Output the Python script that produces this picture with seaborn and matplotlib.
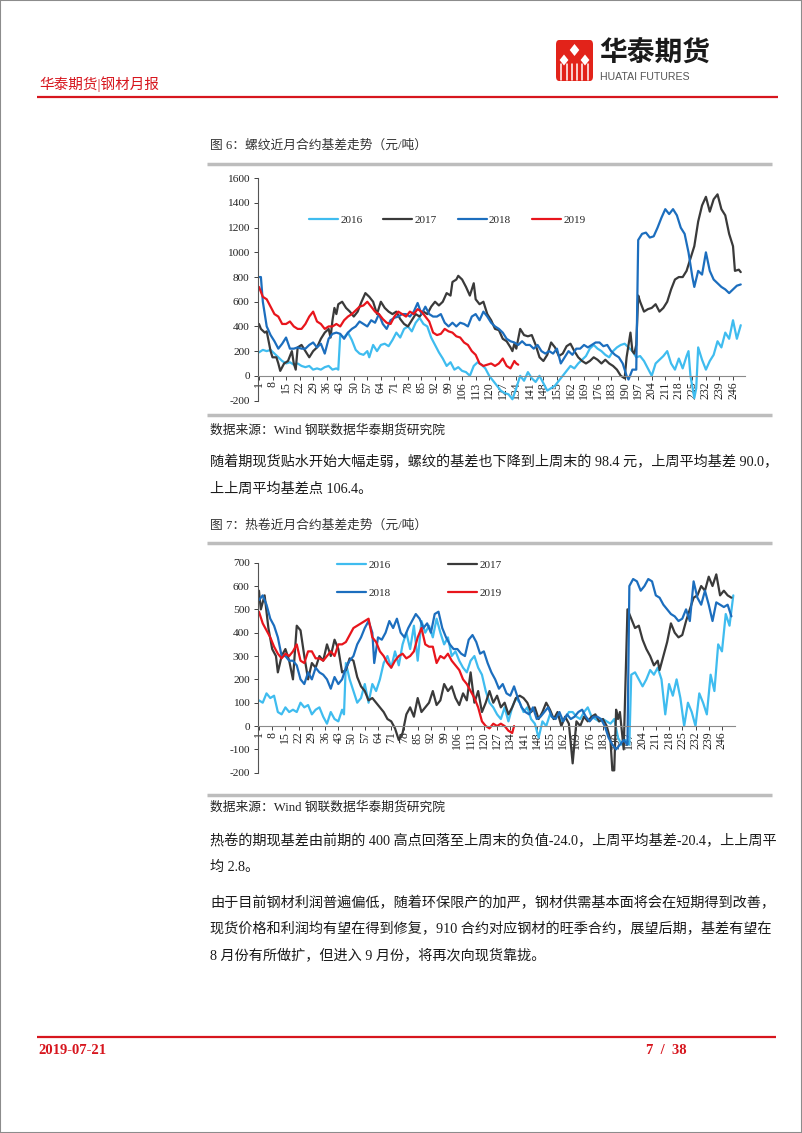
import matplotlib
matplotlib.use("Agg")
import matplotlib.pyplot as plt
import seaborn as sns
import pandas as pd
from matplotlib.patches import Rectangle, FancyBboxPatch, Polygon
from matplotlib.lines import Line2D

# ---------------- data (day index, basis value) ----------------
years = ["2016", "2017", "2018", "2019"]
colors = ["#3FBCEF", "#3A3A3A", "#1C6EBE", "#E8151C"]

rebar_2016 = [(1,190),(3,210),(5,200),(7,210),(9,180),(11,150),(13,120),(15,100),(17,110),(19,90),(21,100),(23,80),(25,70),(27,80),(29,50),(31,60),(33,50),(35,70),(37,80),(39,50),(41,60),(42,50),(43,330),(45,310),(47,350),(49,290),(51,210),(53,180),(55,170),(57,200),(58,150),(60,250),(62,200),(64,250),(66,260),(68,240),(70,290),(72,350),(74,310),(76,380),(78,400),(80,360),(82,430),(84,470),(86,420),(88,400),(90,310),(92,250),(94,190),(96,140),(98,80),(100,110),(102,50),(104,70),(106,40),(108,30),(110,0),(112,80),(114,110),(116,90),(118,60),(120,0),(122,-40),(124,-80),(126,-120),(128,-140),(130,-150),(132,-190),(134,-100),(136,0),(138,-40),(140,30),(142,-20),(144,-50),(146,0),(148,-60),(150,-120),(152,-100),(154,-80),(156,-40),(158,0),(160,40),(162,80),(164,60),(166,100),(168,130),(170,160),(172,220),(174,250),(176,220),(178,200),(180,170),(182,150),(184,200),(186,230),(188,250),(190,260),(192,230),(194,200),(196,150),(198,160),(200,120),(202,60),(204,0),(206,100),(208,130),(210,160),(212,200),(214,100),(216,50),(218,140),(220,60),(222,160),(223,200),(224,0),(226,-180),(227,-100),(228,230),(230,130),(232,50),(234,120),(236,170),(238,280),(240,230),(242,350),(244,300),(246,450),(248,300),(250,410)]
rebar_2017 = [(1,420),(2,380),(4,350),(5,360),(7,200),(8,150),(10,150),(11,100),(12,40),(14,100),(16,120),(18,200),(19,100),(20,50),(21,230),(23,250),(25,200),(27,150),(29,200),(31,230),(33,300),(35,350),(37,380),(38,310),(39,450),(40,550),(41,500),(42,580),(44,600),(46,550),(48,520),(50,480),(52,520),(54,600),(56,670),(58,640),(60,600),(62,500),(64,600),(66,550),(68,520),(70,500),(72,520),(74,460),(76,420),(78,400),(80,450),(82,500),(84,480),(86,520),(88,500),(90,560),(92,600),(94,570),(96,600),(98,670),(100,650),(101,760),(103,780),(104,810),(106,780),(108,720),(110,650),(112,750),(113,620),(115,580),(117,600),(119,500),(121,450),(123,380),(125,370),(127,300),(129,280),(131,230),(132,200),(133,260),(134,220),(136,380),(138,330),(140,320),(142,330),(144,250),(146,150),(148,120),(150,170),(152,270),(154,230),(156,160),(158,180),(160,240),(162,260),(164,200),(166,150),(168,120),(170,100),(172,120),(174,150),(176,130),(178,100),(180,130),(182,100),(184,80),(186,50),(188,0),(190,-20),(191,150),(193,350),(194,200),(195,180),(196,250),(197,650),(198,600),(200,520),(202,540),(204,550),(206,580),(208,520),(210,550),(212,600),(214,700),(216,780),(218,800),(220,800),(222,850),(224,950),(226,1050),(228,1250),(230,1380),(232,1450),(234,1330),(236,1430),(238,1470),(240,1350),(242,1300),(244,1150),(246,1050),(247,850),(249,860),(250,840)]
rebar_2018 = [(1,800),(2,800),(3,600),(5,400),(7,330),(9,280),(11,220),(13,260),(15,310),(17,220),(19,220),(21,230),(23,220),(25,220),(27,250),(29,270),(31,230),(33,260),(35,180),(37,300),(39,340),(41,350),(43,340),(45,300),(47,350),(49,380),(51,400),(53,440),(55,420),(57,400),(59,450),(61,430),(63,500),(65,420),(67,380),(69,450),(71,470),(73,480),(75,500),(77,500),(79,480),(81,520),(83,590),(85,500),(87,560),(89,500),(91,480),(93,480),(95,500),(97,430),(99,400),(101,430),(103,400),(105,430),(107,420),(109,400),(111,480),(113,500),(115,450),(117,520),(119,480),(121,430),(123,400),(125,380),(127,350),(129,300),(131,280),(133,270),(135,250),(137,280),(139,250),(141,250),(143,220),(145,250),(147,200),(149,180),(151,200),(153,180),(155,220),(157,100),(159,150),(161,200),(163,170),(165,220),(167,220),(169,250),(171,230),(173,250),(175,270),(177,270),(179,240),(181,250),(183,200),(185,170),(187,150),(189,100),(191,0),(192,-30),(194,50),(196,50),(197,1100),(199,1150),(201,1160),(203,1120),(205,1130),(207,1200),(209,1280),(211,1350),(213,1310),(215,1350),(217,1300),(219,1200),(221,1150),(223,1000),(225,800),(226,720),(228,850),(230,820),(232,1000),(234,850),(236,780),(238,750),(240,720),(242,700),(244,670),(246,700),(248,730),(250,740)]
rebar_2019 = [(1,720),(3,640),(5,620),(7,560),(9,500),(11,480),(13,420),(15,420),(17,440),(19,400),(21,380),(23,380),(25,420),(27,480),(29,520),(31,440),(33,420),(35,380),(37,400),(39,400),(41,420),(43,400),(45,450),(47,480),(49,500),(51,530),(53,560),(55,570),(57,600),(59,560),(61,520),(63,500),(65,460),(67,430),(69,420),(71,480),(73,520),(75,500),(77,480),(79,520),(81,500),(83,540),(85,520),(87,480),(89,440),(91,350),(93,330),(95,340),(97,380),(99,360),(101,350),(103,320),(105,310),(107,270),(109,250),(111,200),(113,170),(115,100),(117,80),(119,90),(121,100),(123,80),(125,100),(127,140),(129,80),(131,60),(133,120),(134,100),(135,90)]

coil_2016 = [(1,110),(3,100),(5,140),(7,120),(9,130),(11,60),(13,50),(15,80),(17,60),(19,70),(21,60),(23,100),(25,80),(27,90),(29,50),(31,70),(33,80),(35,40),(37,10),(39,60),(41,30),(43,20),(45,70),(46,50),(47,270),(49,200),(51,150),(53,100),(55,120),(57,180),(59,100),(61,180),(63,150),(65,200),(67,270),(69,300),(71,250),(73,320),(75,260),(77,350),(79,400),(81,330),(83,430),(85,280),(87,450),(89,400),(91,430),(93,380),(95,460),(97,400),(99,350),(101,380),(103,300),(105,320),(107,280),(109,250),(111,230),(113,280),(115,300),(117,250),(119,220),(121,150),(123,100),(125,80),(127,50),(129,30),(131,80),(133,20),(135,80),(137,120),(139,100),(141,60),(143,80),(145,30),(147,10),(149,-50),(151,20),(153,0),(155,50),(157,30),(159,50),(161,20),(163,30),(165,60),(167,60),(169,40),(171,30),(173,60),(175,80),(177,40),(179,30),(181,20),(183,30),(185,20),(187,10),(189,30),(191,-50),(193,-80),(195,-60),(197,-80),(198,220),(200,230),(202,200),(204,170),(206,200),(208,240),(210,220),(212,250),(214,200),(216,50),(218,180),(220,130),(222,200),(224,120),(226,0),(228,100),(230,60),(232,0),(234,140),(236,100),(238,50),(240,220),(242,150),(244,350),(246,320),(248,480),(250,430),(252,560)]
coil_2017 = [(1,580),(2,500),(4,560),(6,420),(8,330),(10,300),(11,230),(13,300),(15,330),(17,280),(19,200),(21,430),(23,410),(25,300),(27,200),(29,270),(31,250),(33,300),(35,280),(37,350),(39,300),(41,370),(43,330),(45,230),(47,240),(49,290),(51,280),(53,210),(55,170),(57,150),(59,110),(61,120),(63,100),(65,80),(67,60),(69,30),(71,20),(73,-10),(75,-60),(77,-30),(79,50),(81,80),(83,40),(85,120),(87,60),(89,80),(91,100),(93,150),(95,90),(97,110),(99,180),(101,150),(103,170),(105,120),(107,90),(109,140),(111,110),(113,230),(115,100),(117,150),(119,60),(121,100),(123,150),(125,100),(127,130),(129,80),(131,100),(133,50),(135,80),(137,120),(139,130),(141,120),(143,100),(145,60),(147,80),(149,30),(151,60),(153,100),(155,70),(157,30),(159,60),(161,0),(163,40),(165,10),(167,-160),(169,20),(171,0),(173,40),(175,20),(177,40),(179,50),(181,20),(183,30),(185,0),(187,-60),(188,-190),(189,-190),(190,70),(191,30),(192,60),(193,-20),(194,-100),(196,500),(198,460),(200,420),(202,430),(204,370),(206,330),(208,300),(210,260),(212,280),(213,240),(215,300),(217,360),(219,440),(221,400),(223,380),(225,390),(227,450),(229,500),(231,550),(233,560),(235,600),(237,580),(239,640),(241,600),(243,650),(245,560),(247,580),(249,560),(251,550)]
coil_2018 = [(1,540),(3,560),(5,520),(7,460),(9,430),(11,380),(13,300),(15,300),(17,280),(19,280),(21,260),(23,200),(25,180),(27,230),(29,200),(31,250),(33,230),(35,220),(37,200),(39,160),(41,210),(43,180),(45,200),(47,250),(49,280),(51,300),(53,350),(55,380),(57,420),(59,450),(61,400),(62,270),(64,380),(66,370),(68,400),(70,450),(72,420),(74,460),(76,400),(78,380),(80,420),(82,450),(84,480),(86,460),(88,420),(90,440),(92,400),(94,480),(96,490),(98,420),(100,380),(102,350),(104,330),(106,330),(108,310),(110,300),(112,370),(114,390),(116,360),(118,310),(120,320),(122,270),(124,230),(126,200),(128,160),(130,180),(132,140),(134,130),(136,170),(138,120),(140,80),(142,60),(144,50),(146,80),(148,30),(150,40),(152,60),(154,80),(156,40),(158,30),(160,60),(162,20),(164,50),(166,30),(168,40),(170,60),(172,70),(174,40),(176,20),(178,40),(180,40),(182,30),(184,0),(186,-50),(188,-80),(190,-100),(192,-80),(194,-60),(196,-80),(197,600),(199,630),(201,620),(203,580),(205,600),(207,630),(209,620),(211,560),(213,550),(215,520),(217,500),(219,480),(221,470),(223,450),(225,460),(227,500),(229,450),(231,620),(233,550),(235,520),(237,580),(239,520),(241,450),(243,530),(245,520),(247,510),(249,520),(251,470)]
coil_2019 = [(1,490),(3,440),(5,410),(7,380),(9,340),(11,310),(13,290),(15,310),(17,300),(19,320),(21,350),(23,280),(25,270),(27,320),(29,320),(31,290),(33,290),(35,280),(37,300),(39,320),(41,300),(43,350),(45,350),(47,360),(49,390),(51,420),(53,430),(55,440),(57,450),(59,460),(61,380),(63,360),(65,320),(67,300),(69,270),(71,250),(73,280),(75,300),(77,310),(79,290),(81,300),(83,320),(85,380),(87,420),(89,350),(91,340),(93,340),(95,270),(97,300),(99,290),(101,310),(103,280),(105,260),(107,240),(109,200),(111,180),(113,150),(115,120),(117,80),(119,20),(121,0),(123,-10),(125,10),(127,0),(129,10),(131,0),(133,-20),(135,-30),(136,0)]

x_ticks = list(range(1, 247, 7))
rebar_yticks = list(range(-200, 1601, 200))
coil_yticks = list(range(-200, 701, 100))

# ---------------- page texts ----------------
header_left = "华泰期货|钢材月报"
logo_cn = "华泰期货"
logo_en = "HUATAI FUTURES"
fig6_title = "图 6：螺纹近月合约基差走势（元/吨）"
fig7_title = "图 7：热卷近月合约基差走势（元/吨）"
source_txt = "数据来源：Wind 钢联数据华泰期货研究院"
para1 = ["随着期现货贴水开始大幅走弱，螺纹的基差也下降到上周末的 98.4 元，上周平均基差 90.0，",
         "上上周平均基差点 106.4。"]
para2 = ["热卷的期现基差由前期的 400 高点回落至上周末的负值-24.0，上周平均基差-20.4，上上周平",
         "均 2.8。"]
para3 = ["由于目前钢材利润普遍偏低，随着环保限产的加严，钢材供需基本面将会在短期得到改善，",
         "现货价格和利润均有望在得到修复，910 合约对应钢材的旺季合约，展望后期，基差有望在",
         "8 月份有所做扩，但进入 9 月份，将再次向现货靠拢。"]
footer_date = "2019-07-21"
footer_page = "7  /  38"

# ---------------- style ----------------
sns.set_theme(style="white")
plt.rcParams['font.family'] = ['Liberation Serif', 'Noto Sans CJK SC']

W, H = 802.0, 1133.0
fig = plt.figure(figsize=(8.02, 11.33), dpi=100)


def fx(x):
    return x / W


def fy(y):
    return 1 - y / H


def hline(x0, x1, y, color, lw):
    fig.add_artist(Line2D([fx(x0), fx(x1)], [fy(y), fy(y)], transform=fig.transFigure,
                          color=color, lw=lw, solid_capstyle='butt'))


def make_df(series):
    frames = []
    for yr, s in zip(years, series):
        frames.append(pd.DataFrame({'day': [p[0] for p in s], 'value': [p[1] for p in s], 'year': yr}))
    return pd.concat(frames, ignore_index=True)


def draw_chart(rect, series, yticks, ylim, xlim):
    ax = fig.add_axes(rect)
    df = make_df(series)
    sns.lineplot(data=df, x='day', y='value', hue='year', hue_order=years,
                 palette=dict(zip(years, colors)), linewidth=1.6, errorbar=None,
                 legend=False, ax=ax, sort=True)
    ax.set_xlim(*xlim)
    ax.set_ylim(*ylim)
    ax.set_xticks(x_ticks)
    ax.set_xticklabels([str(t) for t in x_ticks])
    ax.set_yticks(yticks)
    ax.set_yticklabels([str(t) for t in yticks])
    ax.set_xlabel('')
    ax.set_ylabel('')
    ax.spines['top'].set_visible(False)
    ax.spines['right'].set_visible(False)
    ax.spines['bottom'].set_position(('data', 0))
    ax.spines['bottom'].set_color('#8a8a8a')
    ax.spines['bottom'].set_linewidth(0.8)
    ax.spines['left'].set_color('#555555')
    ax.spines['left'].set_linewidth(0.8)
    ax.tick_params(axis='x', bottom=True, direction='out', length=3, width=0.6, pad=1,
                   labelrotation=90, labelsize=8.5, colors='#222222')
    ax.tick_params(axis='y', left=True, direction='out', length=3, width=0.6, pad=3,
                   labelsize=8.2, colors='#222222')
    ax.set_facecolor('none')
    return ax


# chart 1 (rebar)
ax1 = draw_chart([fx(258), fy(400.5), fx(745) - fx(258), (400.5 - 178.3) / H],
                 [rebar_2016, rebar_2017, rebar_2018, rebar_2019],
                 rebar_yticks, (-200, 1600), (0.5, 252.2))
ax1.legend(ax1.get_lines()[:4], years, loc='center left', bbox_to_anchor=(fx(309), fy(220)),
           bbox_transform=fig.transFigure, ncol=4, frameon=False, handlelength=2.6,
           handletextpad=0.2, columnspacing=1.9, fontsize=8, borderpad=0, borderaxespad=0)

# chart 2 (hot coil) - legend rows: 2016 2017 / 2018 2019
ax2 = draw_chart([fx(258), fy(772.7), fx(735) - fx(258), (772.7 - 562.7) / H],
                 [coil_2016, coil_2017, coil_2018, coil_2019],
                 coil_yticks, (-200, 700), (0.5, 252.9))
l2 = ax2.get_lines()[:4]
ax2.legend([l2[0], l2[2], l2[1], l2[3]], [years[0], years[2], years[1], years[3]],
           loc='center left', bbox_to_anchor=(fx(337), fy(579)),
           bbox_transform=fig.transFigure, ncol=2, frameon=False, handlelength=2.6,
           handletextpad=0.2, columnspacing=5.2, labelspacing=1.6, fontsize=8,
           borderpad=0, borderaxespad=0)

# ---------------- page decorations ----------------
fig.add_artist(Rectangle((0, 0), 1, 1, transform=fig.transFigure, fill=False,
                         edgecolor='#8c8c8c', lw=1.5))

# logo
fig.add_artist(FancyBboxPatch((fx(556), fy(81)), fx(593) - fx(556), (81 - 40) / H,
                              boxstyle='round,pad=0,rounding_size=0.004',
                              transform=fig.transFigure, facecolor='#E2231A', edgecolor='none'))
for cx, cy, r in [(574.5, 50, 6), (564, 60, 5.5), (585, 60, 5.5)]:
    fig.add_artist(Polygon([(fx(cx), fy(cy - r)), (fx(cx + r * 0.8), fy(cy)),
                            (fx(cx), fy(cy + r)), (fx(cx - r * 0.8), fy(cy))],
                           closed=True, transform=fig.transFigure, facecolor='white', edgecolor='none'))
for bx in [561, 567, 572, 577, 582, 588]:
    fig.add_artist(Line2D([fx(bx), fx(bx)], [fy(64), fy(80)], transform=fig.transFigure,
                          color='white', lw=1.1))
fig.text(fx(599), fy(53), logo_cn, fontsize=20, fontweight='bold', color='#1a1a1a',
         family=['Noto Sans CJK SC'], va='center', ha='left')
fig.text(fx(600), fy(76.5), logo_en, fontsize=7.6, color='#555555',
         family=['Liberation Sans'], va='center', ha='left')

fig.text(fx(39), fy(84), header_left, fontsize=10.5, color='#D7161E', va='center', ha='left')
hline(37, 778, 97, '#D7161E', 1.6)

# figure 6 block
fig.text(fx(210), fy(146), fig6_title, fontsize=9.2, color='#333333', va='center', ha='left')
hline(207, 772, 163.5, '#BDBDBD', 2.5)
hline(207, 772, 415, '#BDBDBD', 2.5)
fig.text(fx(210), fy(430), source_txt, fontsize=9.2, color='#222222', va='center', ha='left')
for i, line in enumerate(para1):
    fig.text(fx(210), fy(462 + i * 27), line, fontsize=10.2, color='#1a1a1a', va='center', ha='left')

# figure 7 block
fig.text(fx(210), fy(525.5), fig7_title, fontsize=9.2, color='#333333', va='center', ha='left')
hline(207, 772, 543, '#BDBDBD', 2.5)
hline(207, 772, 795, '#BDBDBD', 2.5)
fig.text(fx(210), fy(807), source_txt, fontsize=9.2, color='#222222', va='center', ha='left')
for i, line in enumerate(para2):
    fig.text(fx(210), fy(841 + i * 26), line, fontsize=10.2, color='#1a1a1a', va='center', ha='left')
for i, line in enumerate(para3):
    fig.text(fx(210), fy(903 + i * 26), line, fontsize=10.2, color='#1a1a1a', va='center', ha='left')

# footer
hline(37, 776, 1037, '#D7161E', 1.6)
fig.text(fx(38), fy(1050), footer_date, fontsize=10.5, fontweight='bold', color='#D7161E',
         va='center', ha='left')
fig.text(fx(646), fy(1050), footer_page, fontsize=10.5, fontweight='bold', color='#D7161E',
         va='center', ha='left')

fig.savefig('out.png', dpi=100)
